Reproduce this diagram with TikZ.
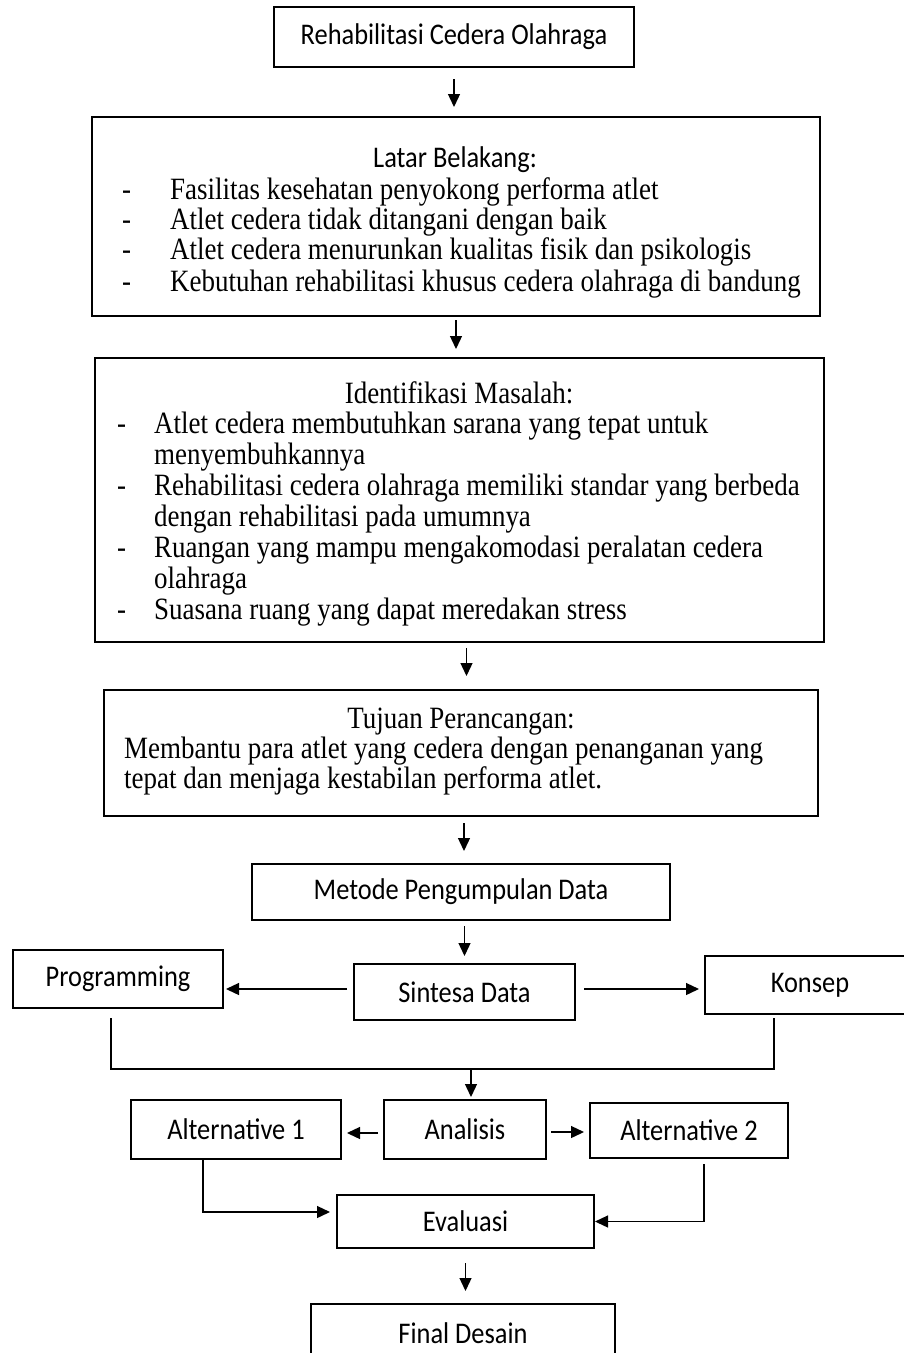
\documentclass[tikz,border=0pt]{standalone}
\usepackage{fontspec}
\setmainfont[FakeStretch=0.87]{Liberation Serif}
\newfontfamily\calibri[FakeStretch=0.88]{Carlito}
\usetikzlibrary{arrows.meta}

\begin{document}
\begin{tikzpicture}[
    x=1pt, y=-1pt,
    box/.style={rectangle, draw=black, line width=2pt, inner sep=0pt, text centered, font=\calibri\fontsize{30}{34}\selectfont},
    heading/.style={anchor=base, inner sep=0pt},
    sansheading/.style={heading, font=\calibri\fontsize{30}{34}\selectfont},
    serifheading/.style={heading, font=\fontsize{31}{34}\selectfont},
    item/.style={anchor=base west, inner sep=0pt, font=\fontsize{31}{34}\selectfont},
    line/.style={line width=1.3pt},
    arrow/.style={line, -{Triangle[length=13pt,width=12pt]}}
]
\useasboundingbox (0,0) rectangle (904,1353);

% Boxes
\node[box, minimum width=360pt, minimum height=60pt] (rehab) at (454,37) {Rehabilitasi Cedera Olahraga};
\node[box, minimum width=728pt, minimum height=199pt] (latar) at (456,216.5) {};
\node[box, minimum width=729pt, minimum height=284pt] (masalah) at (459.5,500) {};
\node[box, minimum width=714pt, minimum height=126pt] (tujuan) at (461,753) {};
\node[box, minimum width=418pt, minimum height=56pt] (metode) at (461,892) {Metode Pengumpulan Data};
\node[box, minimum width=210pt, minimum height=58pt] (prog) at (118,979) {Programming};
\node[box, minimum width=221pt, minimum height=56pt] (sintesa) at (464.5,992) {Sintesa Data};
\node[box, minimum width=210pt, minimum height=58pt] (konsep) at (810,985) {Konsep};
\node[box, minimum width=210pt, minimum height=59pt] (alt1) at (236,1129.5) {Alternative 1};
\node[box, minimum width=162pt, minimum height=59pt] (analisis) at (465,1129.5) {Analisis};
\node[box, minimum width=198pt, minimum height=55pt] (alt2) at (689,1130.5) {Alternative 2};
\node[box, minimum width=257pt, minimum height=53pt] (evaluasi) at (465.5,1221.5) {Evaluasi};
\node[box, minimum width=304pt, minimum height=58pt] (final) at (463,1333) {Final Desain};

% Latar Belakang
\node[sansheading] (latartitle) at (455,167) {Latar Belakang:};
\node[item] (latar1) at (122,199) {\makebox[48pt][l]{-}Fasilitas kesehatan penyokong performa atlet};
\node[item] (latar2) at (122,229) {\makebox[48pt][l]{-}Atlet cedera tidak ditangani dengan baik};
\node[item] (latar3) at (122,259) {\makebox[48pt][l]{-}Atlet cedera menurunkan kualitas fisik dan psikologis};
\node[item] (latar4) at (122,291) {\makebox[48pt][l]{-}Kebutuhan rehabilitasi khusus cedera olahraga di bandung};

% Identifikasi Masalah
\node[serifheading] (masalahtitle) at (459,403) {Identifikasi Masalah:};
\node[item] (masalah1) at (117,433) {\makebox[37pt][l]{-}Atlet cedera membutuhkan sarana yang tepat untuk};
\node[item] (masalah1b) at (154,464) {menyembuhkannya};
\node[item] (masalah2) at (117,495) {\makebox[37pt][l]{-}Rehabilitasi cedera olahraga memiliki standar yang berbeda};
\node[item] (masalah2b) at (154,526) {dengan rehabilitasi pada umumnya};
\node[item] (masalah3) at (117,557) {\makebox[37pt][l]{-}Ruangan yang mampu mengakomodasi peralatan cedera};
\node[item] (masalah3b) at (154,588) {olahraga};
\node[item] (masalah4) at (117,619) {\makebox[37pt][l]{-}Suasana ruang yang dapat meredakan stress};

% Tujuan Perancangan
\node[serifheading] (tujuantitle) at (461,728) {Tujuan Perancangan:};
\node[item] (tujuan1) at (124,758) {Membantu para atlet yang cedera dengan penanganan yang};
\node[item] (tujuan2) at (124,788) {tepat dan menjaga kestabilan performa atlet.};

% Arrows
\draw[arrow, shorten <=11pt, shorten >=9pt] (rehab.south) -- (rehab.south |- latar.north);
\draw[arrow, shorten <=3pt, shorten >=8pt] (latar.south) -- (latar.south |- masalah.north);
\draw[arrow, shorten <=5pt, shorten >=13pt] ([xshift=7pt]masalah.south) -- ([xshift=7pt]masalah.south |- tujuan.north);
\draw[arrow, shorten <=6pt, shorten >=12pt] ([xshift=3pt]tujuan.south) -- ([xshift=3pt]metode.north);
\draw[arrow, shorten <=5pt, shorten >=7pt] (sintesa.north |- metode.south) -- (sintesa.north);
\draw[arrow, shorten <=6pt, shorten >=2pt] ([yshift=3pt]sintesa.west) -- ([yshift=3pt]sintesa.west -| prog.east);
\draw[arrow, shorten <=8pt, shorten >=5pt] ([yshift=3pt]sintesa.east) -- ([yshift=3pt]sintesa.east -| konsep.west);

\coordinate (merge) at (471,1069);
\draw[line, shorten <=9pt] ([xshift=-7pt]prog.south) |- (merge);
\draw[line, shorten <=3pt] ([xshift=-36pt]konsep.south) |- (merge);
\draw[arrow, shorten >=2pt] (merge) -- (merge |- analisis.north);

\draw[arrow, shorten <=5pt, shorten >=5pt] ([yshift=-3.5pt]analisis.west) -- ([yshift=-3.5pt]analisis.west -| alt1.east);
\draw[arrow, shorten <=4pt, shorten >=5pt] ([yshift=-2.5pt]analisis.east) -- ([yshift=-2.5pt]analisis.east -| alt2.west);

\draw[arrow, shorten >=6pt] ([xshift=-33pt]alt1.south) |- ([yshift=9.5pt]evaluasi.west);
\draw[arrow, shorten <=5pt] ([xshift=15pt]alt2.south) |- (evaluasi.east);

\draw[arrow, shorten <=14pt, shorten >=12pt] (evaluasi.south) -- (evaluasi.south |- final.north);
\end{tikzpicture}
\end{document}
